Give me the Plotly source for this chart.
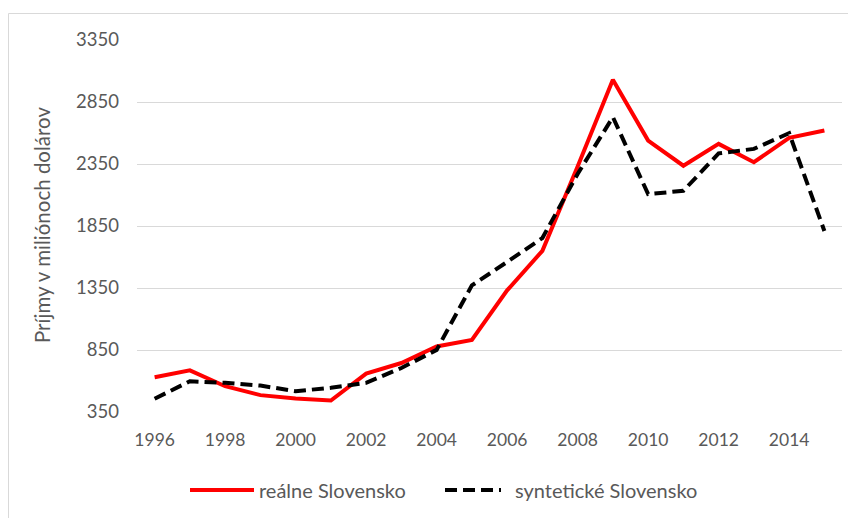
import plotly.graph_objects as go

years = list(range(1996, 2016))
realne = [630, 686, 558, 486, 459, 443, 659, 745, 878, 931, 1331, 1650, 2330, 3030, 2539, 2336, 2512, 2364, 2561, 2620]
synteticke = [457, 598, 585, 563, 518, 545, 585, 705, 851, 1371, 1560, 1753, 2270, 2728, 2107, 2134, 2436, 2472, 2599, 1810]
y_ticks = [350, 850, 1350, 1850, 2350, 2850, 3350]
x_ticks = list(range(1996, 2015, 2))
series_names = ["reálne Slovensko", "syntetické Slovensko"]
series_colors = ["#ff0000", "#000000"]
y_title = "Príjmy v miliónoch dolárov"

FONT = "Lato, 'Open Sans', sans-serif"
GRAY = "#595959"
DASH = "12px,6px"

fig = go.Figure()
fig.add_trace(go.Scatter(x=years, y=realne, mode="lines", name=series_names[0],
                         line=dict(color=series_colors[0], width=4)))
fig.add_trace(go.Scatter(x=years, y=synteticke, mode="lines", name=series_names[1],
                         line=dict(color=series_colors[1], width=4, dash=DASH)))

# page body has an 8px margin; figure coordinates are offset accordingly
W, H = 848, 510
L, R, T = 129, 14, 32
pw, ph = W - L - R, 372
B = H - T - ph
bottom = H - B


def px(X):
    return (X - L) / pw


def py(Y):
    return (bottom - Y) / ph


leg_y = py(482)
shapes = [
    dict(type="rect", xref="paper", yref="paper",
         x0=px(0.5), x1=1.3, y0=-0.6, y1=py(5.5),
         line=dict(color="#d9d9d9", width=1), layer="below"),
    dict(type="line", xref="paper", yref="paper", x0=px(182), x1=px(246), y0=leg_y, y1=leg_y,
         line=dict(color=series_colors[0], width=4)),
    dict(type="line", xref="paper", yref="paper", x0=px(437), x1=px(493), y0=leg_y, y1=leg_y,
         line=dict(color=series_colors[1], width=4, dash=DASH)),
]

annotations = [
    dict(text=y_title, xref="paper", yref="paper", x=px(34), y=py(217), textangle=-90,
         showarrow=False, xanchor="center", yanchor="middle",
         font=dict(size=20.5, color=GRAY)),
    dict(text=series_names[0], xref="paper", yref="paper", x=px(249), y=leg_y,
         showarrow=False, xanchor="left", yanchor="middle", font=dict(size=20, color=GRAY)),
    dict(text=series_names[1], xref="paper", yref="paper", x=px(505), y=leg_y,
         showarrow=False, xanchor="left", yanchor="middle", font=dict(size=20, color=GRAY)),
]

fig.update_layout(
    width=W, height=H,
    margin=dict(l=L, r=R, t=T, b=B),
    paper_bgcolor="white", plot_bgcolor="white",
    font=dict(family=FONT, size=17, color=GRAY),
    showlegend=False,
    xaxis=dict(range=[1995.5, 2015.5], tickvals=x_ticks, ticktext=[str(v) for v in x_ticks],
               showgrid=False, zeroline=False, showline=False, ticks="",
               ticklabelstandoff=15, tickfont=dict(size=17.5, color=GRAY)),
    yaxis=dict(range=[350, 3350], tickvals=y_ticks, ticktext=[str(v) for v in y_ticks],
               showgrid=True, gridcolor="#d9d9d9", gridwidth=1, zeroline=False,
               showline=False, ticks="", ticklabelstandoff=17,
               tickfont=dict(size=18.5, color=GRAY)),
    annotations=annotations,
    shapes=shapes,
)

fig.write_html("out.html")
